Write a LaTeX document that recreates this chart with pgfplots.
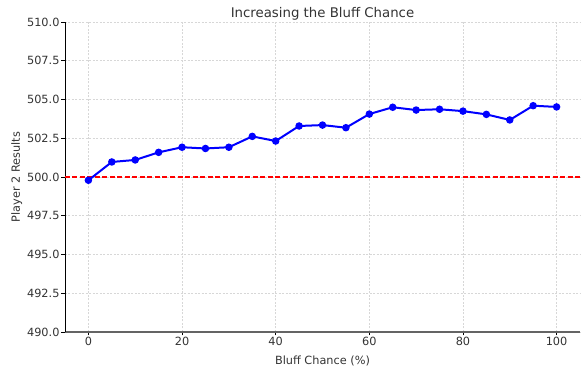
\documentclass[border=0pt]{standalone}
\usepackage{fontspec}
\setmainfont{DejaVu Sans}
\usepackage{pgfplots}
\pgfplotsset{compat=1.18}
\definecolor{gridgray}{RGB}{215,215,215}
\definecolor{spinegray}{RGB}{100,100,100}
\definecolor{titlegray}{RGB}{51,51,51}
\begin{document}
\begin{tikzpicture}
\begin{axis}[
  scale only axis,
  width=515pt, height=310pt,
  xmin=-5, xmax=105,
  ymin=490, ymax=510,
  xtick={0,20,40,60,80,100},
  ytick={490,492.5,495,497.5,500,502.5,505,507.5,510},
  yticklabel style={xshift=1.5pt, /pgf/number format/.cd,fixed,fixed zerofill,precision=1},
  /pgf/number format/assume math mode=true,
  axis lines*=left,
  x axis line style={spinegray, line width=1.1pt, -},
  y axis line style={black, line width=0.9pt, -},
  tick align=outside,
  major tick length=3.5pt,
  tick style={black, line width=0.6pt},
  grid=major,
  grid style={gridgray, dash pattern=on 2pt off 1.5pt, line width=0.6pt},
  ticklabel style={font=\fontsize{11.3}{13}\selectfont, text=titlegray},
  xticklabel style={yshift=2pt},
  xlabel={Bluff Chance (\%)},
  ylabel={Player 2 Results},
  label style={font=\fontsize{11.3}{13}\selectfont, text=titlegray},
  title={Increasing the Bluff Chance},
  title style={font=\fontsize{13.3}{15}\selectfont, text=titlegray, yshift=-8pt},
  xlabel style={yshift=-3pt},
  ylabel style={yshift=-2pt},
]
\addplot[red, dash pattern=on 5pt off 2.5pt, line width=1.2pt, forget plot] coordinates {(-5,500) (105,500)};
\addplot[blue, line width=2pt, mark=*, mark size=2.7pt, mark options={solid, fill=blue}] coordinates {
(0,499.79) (5,500.97) (10,501.1) (15,501.59) (20,501.92) (25,501.84) (30,501.92)
(35,502.62) (40,502.32) (45,503.29) (50,503.35) (55,503.18) (60,504.06) (65,504.5)
(70,504.32) (75,504.37) (80,504.25) (85,504.04) (90,503.68) (95,504.6) (100,504.52)
};
\end{axis}
\pgfresetboundingbox
\useasboundingbox (current axis.south west) ++(-65pt,-37pt) rectangle ([xshift=1pt,yshift=22pt]current axis.north east);
\end{tikzpicture}
\end{document}
